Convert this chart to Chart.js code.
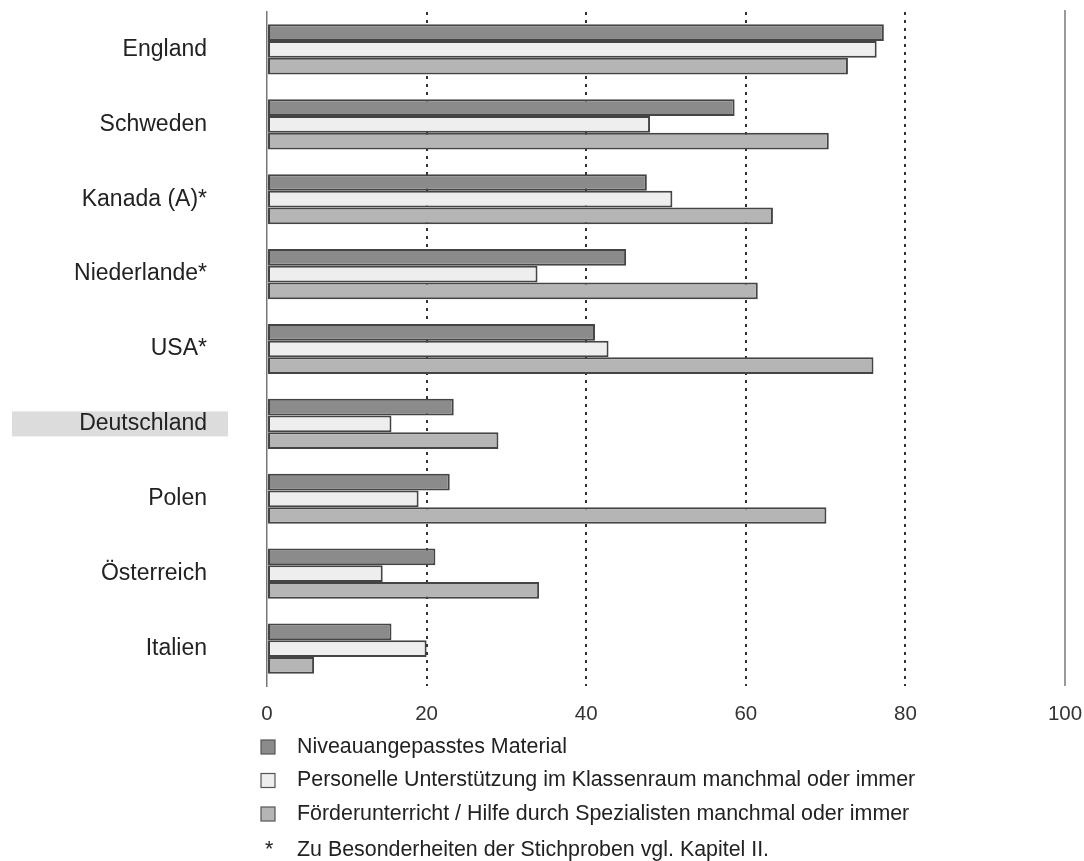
<!DOCTYPE html>
<html>
<head>
<meta charset="utf-8">
<script src="https://cdn.jsdelivr.net/npm/chart.js@4.4.1/dist/chart.umd.min.js"></script>
<style>
html, body { margin: 0; padding: 0; background: #fff; }
</style>
</head>
<body>
<canvas id="chart" width="1084" height="861"></canvas>
<script>
var countries = ['England', 'Schweden', 'Kanada (A)*', 'Niederlande*', 'USA*', 'Deutschland', 'Polen', 'Österreich', 'Italien'];
var material = [77.3, 58.6, 47.6, 45.0, 41.1, 23.4, 22.9, 21.1, 15.6];
var personal = [76.4, 48.0, 50.8, 33.9, 42.8, 15.6, 19.0, 14.5, 20.0];
var foerder = [72.8, 70.4, 63.4, 61.5, 76.0, 29.0, 70.1, 34.1, 5.9];
var seriesNames = [
    'Niveauangepasstes Material',
    'Personelle Unterstützung im Klassenraum manchmal oder immer',
    'Förderunterricht / Hilfe durch Spezialisten manchmal oder immer'
];
var footnote = 'Zu Besonderheiten der Stichproben vgl. Kapitel II.';
var highlighted = 'Deutschland';

var FONT = "'Liberation Sans', Arial, sans-serif";

// grey box behind the highlighted country label
var highlightBox = {
    id: 'highlightBox',
    beforeDraw: function (chart) {
        var y = chart.scales.y.getPixelForValue(countries.indexOf(highlighted));
        var c = chart.ctx;
        c.save();
        c.fillStyle = '#dcdcdc';
        c.fillRect(12, y - 12.5, 216, 25);
        c.restore();
    }
};

// solid line at 100 plus the legend and footnote below the axis
var extras = {
    id: 'extras',
    afterDraw: function (chart) {
        var c = chart.ctx;
        var a = chart.chartArea;
        var x100 = chart.scales.x.getPixelForValue(100);
        c.save();
        c.strokeStyle = '#777';
        c.lineWidth = 1.5;
        c.beginPath();
        c.moveTo(x100, a.top - 2);
        c.lineTo(x100, a.bottom);
        c.stroke();

        c.font = '21.4px ' + FONT;
        c.textBaseline = 'middle';
        chart.data.datasets.forEach(function (ds, i) {
            var y = a.bottom + 61 + i * 33.5;
            c.fillStyle = ds.backgroundColor;
            c.fillRect(261, y - 7, 14, 14);
            c.strokeStyle = '#555';
            c.lineWidth = 1.2;
            c.strokeRect(261, y - 7, 14, 14);
            c.fillStyle = '#222';
            c.fillText(ds.label, 297, y);
        });
        var fy = a.bottom + 164;
        c.fillText('*', 265, fy);
        c.fillText(footnote, 297, fy);
        c.restore();
    }
};

new Chart(document.getElementById('chart').getContext('2d'), {
    type: 'bar',
    data: {
        labels: countries,
        datasets: [
            { label: seriesNames[0], data: material, backgroundColor: '#8b8b8b' },
            { label: seriesNames[1], data: personal, backgroundColor: '#eeeeee' },
            { label: seriesNames[2], data: foerder, backgroundColor: '#b5b5b5' }
        ]
    },
    options: {
        indexAxis: 'y',
        responsive: false,
        animation: false,
        devicePixelRatio: 1,
        datasets: {
            bar: {
                barPercentage: 1.0,
                categoryPercentage: 0.67,
                borderColor: '#444',
                borderWidth: 2,
                borderSkipped: false
            }
        },
        layout: { padding: { top: 12, right: 19, bottom: 135, left: 0 } },
        plugins: {
            legend: { display: false },
            tooltip: { enabled: false }
        },
        scales: {
            x: {
                min: 0,
                max: 100,
                afterFit: function (s) {
                    s.height = 40;
                    s.paddingLeft = 0;
                    s.paddingRight = 0;
                },
                ticks: {
                    stepSize: 20,
                    padding: 16,
                    color: '#333',
                    font: { family: FONT, size: 20.5 }
                },
                grid: {
                    drawTicks: false,
                    lineWidth: 2,
                    color: function (ctx) {
                        var v = ctx.tick && ctx.tick.value;
                        return (v === 0 || v === 100) ? 'rgba(0,0,0,0)' : '#333';
                    }
                },
                border: { display: false, dash: [3, 5] }
            },
            y: {
                afterFit: function (s) {
                    s.width = 267;
                    s.paddingTop = 0;
                    s.paddingBottom = 0;
                },
                ticks: {
                    padding: 60,
                    color: '#222',
                    font: { family: FONT, size: 23 }
                },
                grid: { display: false, drawTicks: false },
                border: { display: true, color: '#777', width: 1.5 }
            }
        }
    },
    plugins: [highlightBox, extras]
});
</script>
</body>
</html>
